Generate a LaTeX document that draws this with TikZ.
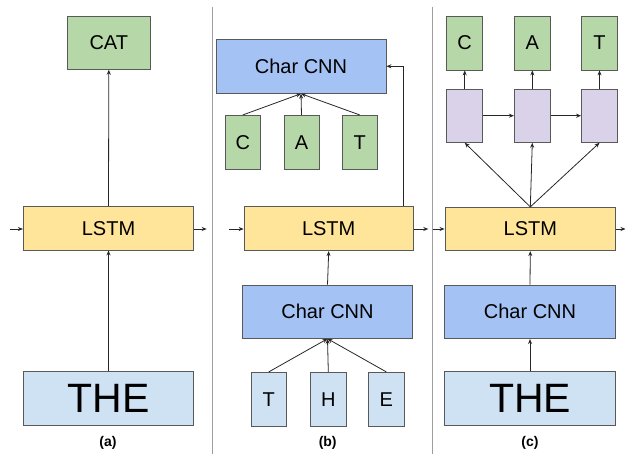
\documentclass[tikz,border=0pt]{standalone}
\usepackage{fontspec}
\setmainfont{Liberation Sans}
\usetikzlibrary{arrows.meta,calc}
\definecolor{cgreen}{HTML}{B6D7A8}
\definecolor{clight}{HTML}{CFE2F3}
\definecolor{cblue}{HTML}{A4C2F4}
\definecolor{cyellow}{HTML}{FFE599}
\definecolor{cpurple}{HTML}{D9D2E9}
\definecolor{cborder}{HTML}{595959}
\definecolor{cdiv}{HTML}{9E9E9E}
\begin{document}
\begin{tikzpicture}[x=1pt,y=-1pt,
  box/.style={draw=cborder,line width=0.8pt,rectangle,inner sep=0pt,anchor=center,
    font=\fontsize{20}{22}\selectfont},
  bigtxt/.style={font=\fontsize{41}{44}\selectfont},
  conn/.style={line width=0.8pt,draw=black!85,-{Stealth[length=5pt,width=4pt]}},
  divider/.style={draw=cdiv,line width=1pt},
  caption/.style={font=\bfseries\fontsize{14}{16}\selectfont,anchor=center}]
\useasboundingbox (0,0) rectangle (626,454);
% dividers
\draw[divider] (212.3,7) -- (212.3,454);
\draw[divider] (432.3,7) -- (432.3,454);
% ---------- (a)
\node[box,fill=cgreen,minimum width=83,minimum height=53.3] (catA) at (108.8,42.7) {CAT};
\node[box,fill=cyellow,minimum width=170.4,minimum height=43.7] (lstmA) at (108.5,228.2) {LSTM};
\node[box,fill=clight,minimum width=170.4,minimum height=53.3,bigtxt] (theA) at (108.5,398.3) {THE};
\node[caption] (capA) at (108,443) {(a)};
\coordinate (inA) at (10,229);
\coordinate (outA) at (206.7,229);
\draw[conn] (theA.north) -- (lstmA.south);
\draw[conn] (lstmA.north) -- (catA.south);
\draw[conn] (inA) -- (inA -| lstmA.west);
\draw[conn] (outA -| lstmA.east) -- (outA);
% ---------- (b)
\node[box,fill=cblue,minimum width=170,minimum height=54] (cnnTop) at (301,66.3) {Char CNN};
\node[box,fill=cgreen,minimum width=35,minimum height=53.7] (cB) at (242.8,142.2) {C};
\node[box,fill=cgreen,minimum width=35,minimum height=53.7] (aB) at (301.5,142.2) {A};
\node[box,fill=cgreen,minimum width=35,minimum height=53.7] (tB) at (359.7,142.2) {T};
\node[box,fill=cyellow,minimum width=169.3,minimum height=44.4] (lstmB) at (328.7,228.5) {LSTM};
\node[box,fill=cblue,minimum width=170.4,minimum height=53.3] (cnnB) at (327.5,311.7) {Char CNN};
\node[box,fill=clight,minimum width=35.7,minimum height=54] (tlB) at (268.8,399.3) {T};
\node[box,fill=clight,minimum width=35.7,minimum height=54] (hlB) at (328.3,399.3) {H};
\node[box,fill=clight,minimum width=35.7,minimum height=54] (elB) at (386.3,399.3) {E};
\node[caption] (capB) at (327.7,443) {(b)};
\coordinate (inB) at (229.3,229);
\coordinate (outB) at (428.3,229);
\coordinate (upB) at ($(lstmB.north east)+(-10.6,0)$);
\draw[conn] (cB.north) -- (cnnTop.south);
\draw[conn] (aB.north) -- (cnnTop.south);
\draw[conn] (tB.north) -- (cnnTop.south);
\draw[conn] (upB) |- (cnnTop.east);
\draw[conn] (inB) -- (inB -| lstmB.west);
\draw[conn] (outB -| lstmB.east) -- (outB);
\draw[conn] (cnnB.north) -- (lstmB.south);
\draw[conn] (tlB.north) -- (cnnB.south);
\draw[conn] (hlB.north) -- (cnnB.south);
\draw[conn] (elB.north) -- (cnnB.south);
% ---------- (c)
\node[box,fill=cgreen,minimum width=36,minimum height=54] (cC) at (464.7,43) {C};
\node[box,fill=cgreen,minimum width=36,minimum height=54] (aC) at (532.3,43) {A};
\node[box,fill=cgreen,minimum width=36,minimum height=54] (tC) at (599.5,43) {T};
\node[box,fill=cpurple,minimum width=36,minimum height=53.3] (p1) at (464.7,115.7) {};
\node[box,fill=cpurple,minimum width=36,minimum height=53.3] (p2) at (532.3,115.7) {};
\node[box,fill=cpurple,minimum width=36,minimum height=53.3] (p3) at (599.5,115.7) {};
\node[box,fill=cyellow,minimum width=170.7,minimum height=43.4] (lstmC) at (530.3,229) {LSTM};
\node[box,fill=cblue,minimum width=171.4,minimum height=53.7] (cnnC) at (530,311.8) {Char CNN};
\node[box,fill=clight,minimum width=171.4,minimum height=54,bigtxt] (theC) at (530,398.7) {THE};
\node[caption] (capC) at (530,443) {(c)};
\coordinate (inC) at (433.3,229);
\coordinate (outC) at (625.5,229);
\draw[conn] (inC) -- (inC -| lstmC.west);
\draw[conn] (outC -| lstmC.east) -- (outC);
\draw[conn] (theC.north) -- (cnnC.south);
\draw[conn] (cnnC.north) -- (lstmC.south);
\draw[conn] (lstmC.north) -- (p1.south);
\draw[conn] (lstmC.north) -- (p2.south);
\draw[conn] (lstmC.north) -- (p3.south);
\draw[conn] (p1) -- (p2);
\draw[conn] (p2) -- (p3);
\draw[conn] (p1.north) -- (cC.south);
\draw[conn] (p2.north) -- (aC.south);
\draw[conn] (p3.north) -- (tC.south);
\end{tikzpicture}
\end{document}
